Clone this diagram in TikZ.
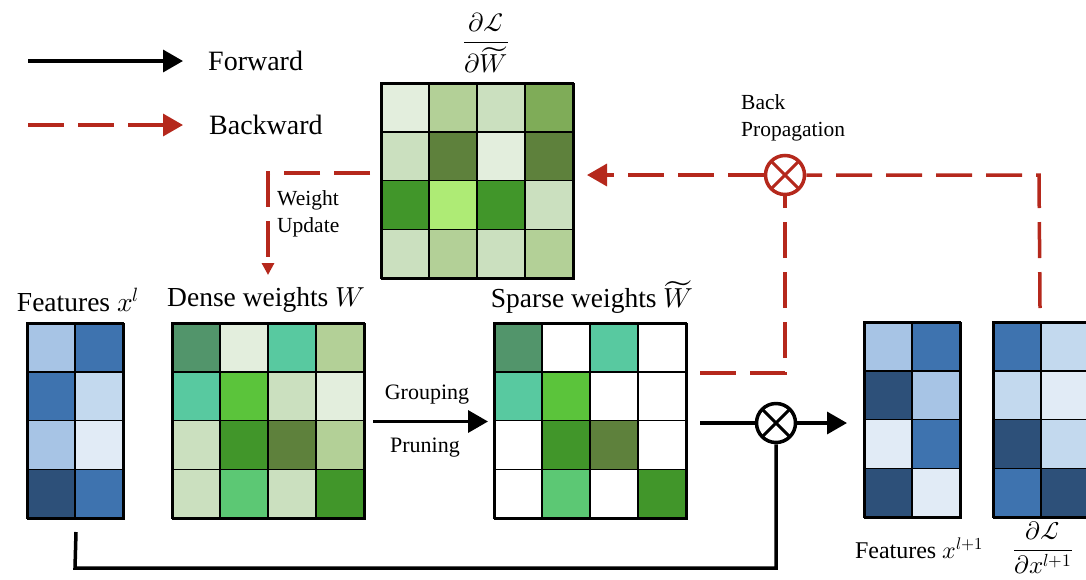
\documentclass[tikz,border=0pt]{standalone}
\usepackage{fontspec}
\usepackage{unicode-math}
\setmainfont{Liberation Serif}
\usetikzlibrary{arrows.meta}
\definecolor{bred}{HTML}{B5281C}
\definecolor{b1}{HTML}{A7C4E5}
\definecolor{b2}{HTML}{3E73AF}
\definecolor{b3}{HTML}{C3D9EE}
\definecolor{b4}{HTML}{E1EBF6}
\definecolor{b5}{HTML}{2D5079}
\definecolor{gvp}{HTML}{E3EEDD}
\definecolor{glt}{HTML}{B3D097}
\definecolor{gpl}{HTML}{CBE0BF}
\definecolor{gol}{HTML}{7FAC58}
\definecolor{gdk}{HTML}{5E813C}
\definecolor{ggr}{HTML}{41962A}
\definecolor{glime}{HTML}{AEEB75}
\definecolor{gtd}{HTML}{52956B}
\definecolor{gte}{HTML}{58C9A0}
\definecolor{gbr}{HTML}{5BC43B}
\definecolor{gmd}{HTML}{5CC874}
\newcommand\mgrid[5]{%
  \foreach \c [count=\i from 0] in {#5} {%
    \pgfmathtruncatemacro\cc{mod(\i,#4)}%
    \pgfmathtruncatemacro\rr{div(\i,#4)}%
    \filldraw[cell, fill=\c] ({#2+\cc*48},{#3+\rr*48.75}) rectangle ++(48,48.75);
  }%
  \node[mat, minimum width=#4*48pt, minimum height=195pt] (#1) at (#2,#3) {};%
}
\begin{document}
\begin{tikzpicture}[x=1pt,y=-1pt,
  fwd/.style={line width=3.5pt, draw=black},
  bwd/.style={line width=3.5pt, draw=bred, dash pattern=on 36pt off 14pt},
  bigtip/.style={-{Triangle[length=20pt,width=22pt]}},
  smalltip/.style={-{Triangle[length=12pt,width=12pt]}},
  mat/.style={draw, line width=2pt, inner sep=0pt, anchor=north west},
  cell/.style={draw=black, line width=1.5pt},
  lab/.style={inner sep=0pt, font=\fontsize{27.5}{32}\selectfont},
  leg/.style={inner sep=0pt, anchor=west, font=\fontsize{28}{32}\selectfont},
  small/.style={inner sep=0pt, font=\fontsize{22}{26}\selectfont},
  note/.style={inner sep=0pt, anchor=north west, align=left, font=\fontsize{21.5}{27}\selectfont},
  frac/.style={inner sep=0pt, font=\fontsize{26}{30}\selectfont},
  otimes/.style={circle, draw=#1, minimum size=39pt, inner sep=0pt, line width=3.5pt,
    path picture={\draw[#1, line width=3pt]
      (path picture bounding box.center) +(45:22pt) -- +(225:22pt)
      (path picture bounding box.center) +(135:22pt) -- +(-45:22pt);}}
]
\clip (0,0) rectangle (1086,579);
\fill[white] (0,0) rectangle (1086,579);

% legend
\coordinate (f1) at (28,61); \coordinate (f2) at (183,61);
\coordinate (k1) at (28,125); \coordinate (k2) at (183,125);
\draw[fwd, bigtip] (f1) -- (f2);
\draw[bwd, bigtip] (k1) -- (k2);
\node[leg] (lf) at (208,61) {Forward};
\node[leg] (lb) at (209,125) {Backward};

% matrices
\mgrid{xl}{27}{323}{2}{b1,b2,b2,b3,b1,b4,b5,b2}
\mgrid{W}{172}{323}{4}{gtd,gvp,gte,glt,gte,gbr,gpl,gvp,gpl,ggr,gdk,glt,gpl,gmd,gpl,ggr}
\mgrid{Ws}{494}{323}{4}{gtd,white,gte,white,gte,gbr,white,white,white,ggr,gdk,white,white,gmd,white,ggr}
\mgrid{gw}{381}{83}{4}{gvp,glt,gpl,gol,gpl,gdk,gvp,gdk,ggr,glime,ggr,gpl,gpl,glt,gpl,glt}
\mgrid{x2}{864}{322}{2}{b1,b2,b5,b1,b4,b2,b5,b4}
\mgrid{dx}{993}{322}{2}{b2,b3,b3,b4,b5,b3,b2,b5}

% titles
\node[lab] (tl) at (78,300) {Features $x^{l}$};
\node[lab] (tW) at (266,300) {Dense weights $W$};
\node[lab] (tWs) at (592,297) {Sparse weights $\widetilde{W}$};
\node[lab, font=\fontsize{24}{28}\selectfont] (tx2) at (919,548) {Features $x^{l+1}$};
\node[frac] (tgw) at (486,43) {$\displaystyle\frac{\partial\mathcal{L}}{\partial\widetilde{W}}$};
\node[frac, font=\fontsize{25}{29}\selectfont] (tdx) at (1043,548) {$\displaystyle\frac{\partial\mathcal{L}}{\partial x^{l+1}}$};

% operators
\node[otimes=bred] (bp) at (785,175) {};
\node[otimes=black] (mul) at (776,423) {};
\node[note] (bpl) at (741,94) {Back\\Propagation};
\node[note] (wul) at (277,190) {Weight\\Update};
\node[small] (grp) at (427,395) {Grouping};
\node[small] (prn) at (425,448) {Pruning};

% forward connectors
\draw[fwd, bigtip] ([xshift=7pt]W.east) -- ([xshift=-6pt]Ws.west);
\coordinate (sf) at (700,423);
\coordinate (t2) at (847,423);
\draw[fwd] (sf) -- (mul.west);
\draw[fwd, bigtip] (mul.east) -- (t2);
\coordinate (bl) at (75,568);
\draw[fwd] ([yshift=-12pt]xl.south) -- (bl) -| (mul.south);

% backward connectors
\coordinate (rt) at (1039,175);
\draw[bwd] ([shift={(-2pt,14pt)}]dx.north) -- (rt) -- (bp.east);
\coordinate (ga) at (587,175);
\draw[bwd, bigtip] (bp.west) -- (ga);
\coordinate (sb) at (700,373);
\draw[bwd] (sb) -| (bp.south);
\coordinate (wu0) at (370,173);
\coordinate (wu1) at (268,275);
\draw[bwd, smalltip] (wu0) -| (wu1);
\end{tikzpicture}
\end{document}
